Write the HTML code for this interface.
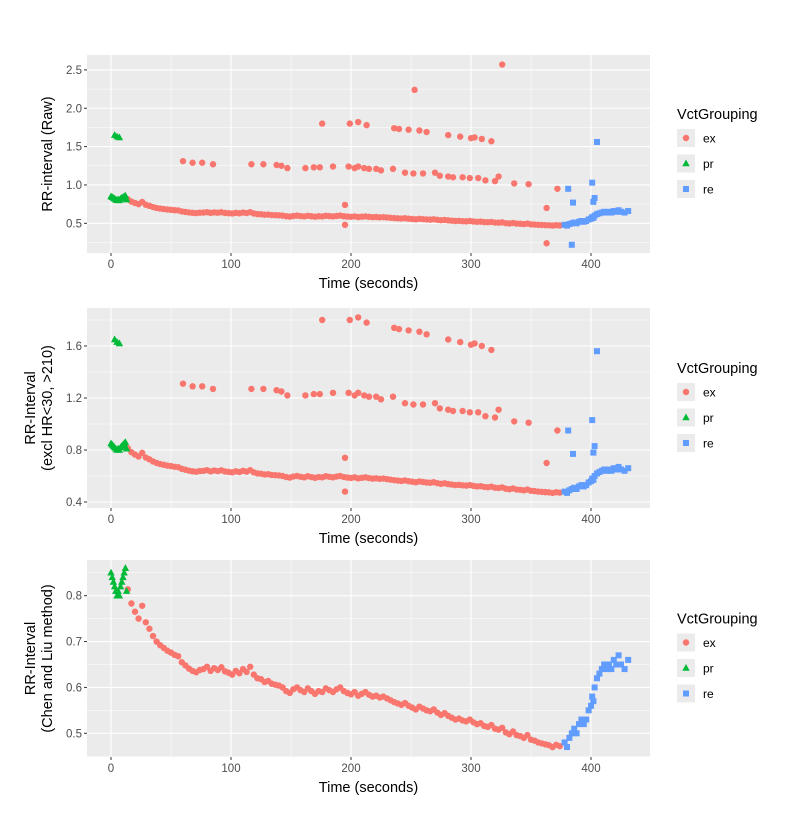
<!DOCTYPE html>
<html><head><meta charset="utf-8"><style>
body{margin:0;background:#fff;}
svg{display:block;font-family:"Liberation Sans",sans-serif;}
</style></head><body>
<svg id="chart" width="804" height="837" viewBox="0 0 804 837"></svg>
<script>
// ---- data ----
const exTimes=[14,17,20,23,26,29,32,35,38,41,44,47,50,53,56,59,62,65,68,71,74,77,80,83,86,89,92,95,98,101,104,107,110,113,116,119,122,125,128,131,134,137,140,143,146,149,152,155,158,161,164,167,170,173,176,179,182,185,188,191,194,197,200,203,206,209,212,215,218,221,224,227,230,233,236,239,242,245,248,251,254,257,260,263,266,269,272,275,278,281,284,287,290,293,296,299,302,305,308,311,314,317,320,323,326,329,332,335,338,341,344,347,350,353,356,359,362,365,368,371,374];
const exValues=[0.814,0.783,0.765,0.750,0.778,0.742,0.728,0.712,0.700,0.692,0.686,0.680,0.676,0.671,0.668,0.655,0.648,0.641,0.636,0.633,0.638,0.640,0.645,0.636,0.642,0.638,0.644,0.635,0.632,0.628,0.636,0.631,0.640,0.634,0.645,0.628,0.620,0.618,0.612,0.614,0.608,0.606,0.604,0.600,0.592,0.588,0.596,0.600,0.594,0.590,0.598,0.592,0.586,0.592,0.590,0.598,0.594,0.590,0.596,0.600,0.592,0.588,0.585,0.590,0.582,0.586,0.590,0.584,0.580,0.582,0.578,0.580,0.576,0.572,0.568,0.565,0.562,0.566,0.560,0.556,0.552,0.558,0.554,0.550,0.548,0.552,0.545,0.540,0.544,0.538,0.534,0.530,0.532,0.528,0.526,0.530,0.524,0.520,0.522,0.516,0.514,0.518,0.510,0.508,0.512,0.502,0.498,0.504,0.496,0.494,0.490,0.496,0.486,0.484,0.480,0.478,0.476,0.474,0.470,0.475,0.472];
const exOutTimes=[176,199,206,213,236,240,248,257,263,281,291,300,303,309,317,253,326,60,68,76,85,117,127,138,142,147,162,169,174,185,198,203,206,211,215,221,225,235,245,252,260,270,274,281,285,293,299,306,312,320,323,336,348,372,363,195,195,363];
const exOutValues=[1.80,1.80,1.82,1.78,1.74,1.73,1.72,1.71,1.69,1.65,1.63,1.61,1.62,1.60,1.57,2.24,2.57,1.31,1.29,1.29,1.27,1.27,1.27,1.26,1.25,1.22,1.22,1.23,1.23,1.24,1.24,1.22,1.24,1.22,1.21,1.21,1.19,1.21,1.16,1.15,1.15,1.16,1.12,1.11,1.10,1.10,1.09,1.09,1.06,1.05,1.11,1.02,1.01,0.95,0.70,0.74,0.48,0.24];
const prTimes=[0,1,2,3,4,5,6,7,8,9,10,11,12,13];
const prValues=[0.85,0.84,0.83,0.82,0.81,0.80,0.81,0.80,0.82,0.83,0.84,0.85,0.86,0.81];
const prOutTimes=[3,5,7];
const prOutValues=[1.65,1.63,1.62];
const reTimes=[378,380,382,384,386,388,390,392,394,396,398,400,401,402,403,405,407,409,411,413,415,417,419,421,423,425,428,431];
const reValues=[0.48,0.47,0.49,0.50,0.51,0.50,0.52,0.53,0.52,0.53,0.55,0.56,0.58,0.57,0.60,0.62,0.63,0.64,0.65,0.64,0.65,0.64,0.66,0.65,0.67,0.65,0.64,0.66];
const reOutTimes=[381,385,384,401,403,402,405];
const reOutValues=[0.95,0.77,0.22,1.03,0.83,0.78,1.56];
const xTicks=[0,100,200,300,400];
const yTicks1=[0.5,1.0,1.5,2.0,2.5];
const yTickLabels1=["0.5","1.0","1.5","2.0","2.5"];
const yTicks2=[0.4,0.8,1.2,1.6];
const yTickLabels2=["0.4","0.8","1.2","1.6"];
const yTicks3=[0.5,0.6,0.7,0.8];
const yTickLabels3=["0.5","0.6","0.7","0.8"];
const groups=["ex","pr","re"];

const NS="http://www.w3.org/2000/svg";
const svg=document.getElementById('chart');
function mk(tag,attrs,parent,txt){const e=document.createElementNS(NS,tag);for(const k in attrs)e.setAttribute(k,attrs[k]);if(txt!==undefined)e.textContent=txt;parent.appendChild(e);return e;}
const L=87,R=650;
function xs(t){return 111+1.2*t;}
const COL={ex:"#F8766D",pr:"#00BA38",re:"#619CFF"};
const PR=3.2;

function panel(idx,top,bot,v0,p0,k,ticks,labels,titleLines,filter){
  const g=mk('g',{},svg);
  
  
  const ys=v=>p0-(v-v0)*k;
  const bg=mk('rect',{x:L,y:top,width:R-L,height:bot-top,fill:'#EBEBEB'},g);
  
  
  const step=ticks[1]-ticks[0];
  for(let i=-1;i<ticks.length;i++){const v=ticks[0]+step*(i+0.5);const y=ys(v);if(y>top&&y<bot)mk('line',{x1:L,x2:R,y1:y,y2:y,stroke:'#fff','stroke-width':0.5},g);}
  for(let i=-1;i<xTicks.length;i++){const x=xs(xTicks[0]+100*(i+0.5));if(x>L&&x<R)mk('line',{x1:x,x2:x,y1:top,y2:bot,stroke:'#fff','stroke-width':0.5},g);}
  ticks.forEach((v,i)=>{const y=ys(v);mk('line',{x1:L,x2:R,y1:y,y2:y,stroke:'#fff','stroke-width':1.1},g);
    mk('line',{x1:L-3,x2:L,y1:y,y2:y,stroke:'#333','stroke-width':1},g);
    const t=mk('text',{x:L-5,y:y+4,'text-anchor':'end','font-size':11.5,fill:'#4D4D4D'},g,labels[i]);
    
    });
  xTicks.forEach(v=>{const x=xs(v);mk('line',{x1:x,x2:x,y1:top,y2:bot,stroke:'#fff','stroke-width':1.1},g);
    mk('line',{x1:x,x2:x,y1:bot,y2:bot+3,stroke:'#333','stroke-width':1},g);
    const t=mk('text',{x:x,y:bot+15,'text-anchor':'middle','font-size':11.5,fill:'#4D4D4D'},g,String(v));
    
    });
  const xt=mk('text',{x:(L+R)/2,y:bot+35,'text-anchor':'middle','font-size':14.5,fill:'#000'},g,'Time (seconds)');
  
  
  const cy=(top+bot)/2;
  titleLines.forEach((s,i)=>{const x=titleLines.length>1?(i===0?35:52):52;
    const t=mk('text',{x:x,y:cy,'text-anchor':'middle','font-size':14.5,fill:'#000',transform:`rotate(-90 ${x} ${cy})`},g,s);
    
    });
  const pts=mk('g',{},g);
  function circles(ts,vs){ts.forEach((t,i)=>{const v=vs[i];if(!filter(v))return;
    const c=mk('circle',{cx:xs(t),cy:ys(v),r:PR,fill:COL.ex},pts);
    
    });}
  function tris(ts,vs){ts.forEach((t,i)=>{const v=vs[i];if(!filter(v))return;const x=xs(t),y=ys(v);
    const p=mk('polygon',{points:`${x},${y-4} ${x-3.7},${y+2.8} ${x+3.7},${y+2.8}`,fill:COL.pr},pts);
    
    });}
  function sq(ts,vs){ts.forEach((t,i)=>{const v=vs[i];if(!filter(v))return;
    const r=mk('rect',{x:xs(t)-3,y:ys(v)-3,width:6,height:6,fill:COL.re},pts);
    
    });}
  if(idx<3){circles(exOutTimes,exOutValues);}
  circles(exTimes,exValues);
  sq(reTimes,reValues);
  if(idx<3){sq(reOutTimes,reOutValues);tris(prOutTimes,prOutValues);}
  tris(prTimes,prValues);
  const lg=mk('g',{},g);
  
  
  const ly=cy-16;
  const lt=mk('text',{x:677,y:ly-19,'font-size':14.5,fill:'#000'},lg,'VctGrouping');
  
  
  groups.forEach((gname,i)=>{const y=ly+i*25.5;
    const e=mk('g',{},lg);
    
    
    mk('rect',{x:677,y:y-9,width:18,height:18,fill:'#EBEBEB'},e);
    if(gname==='ex')mk('circle',{cx:686,cy:y,r:PR,fill:COL.ex},e);
    if(gname==='pr')mk('polygon',{points:`686,${y-4} 682.3,${y+2.8} 689.7,${y+2.8}`,fill:COL.pr},e);
    if(gname==='re')mk('rect',{x:683,y:y-3,width:6,height:6,fill:COL.re},e);
    mk('text',{x:703,y:y+4.5,'font-size':12,fill:'#000'},e,gname);});
}
panel(1,55,253,0.5,223.3,76.7,yTicks1,yTickLabels1,["RR-interval (Raw)"],v=>true);
panel(2,308,508,0.4,502,130,yTicks2,yTickLabels2,["RR-Interval","(excl HR<30, >210)"],v=>v>=0.2857&&v<=2.0);
panel(3,560,757,0.5,733.3,458.7,yTicks3,yTickLabels3,["RR-Interval","(Chen and Liu method)"],v=>true);
</script>
</body></html>
